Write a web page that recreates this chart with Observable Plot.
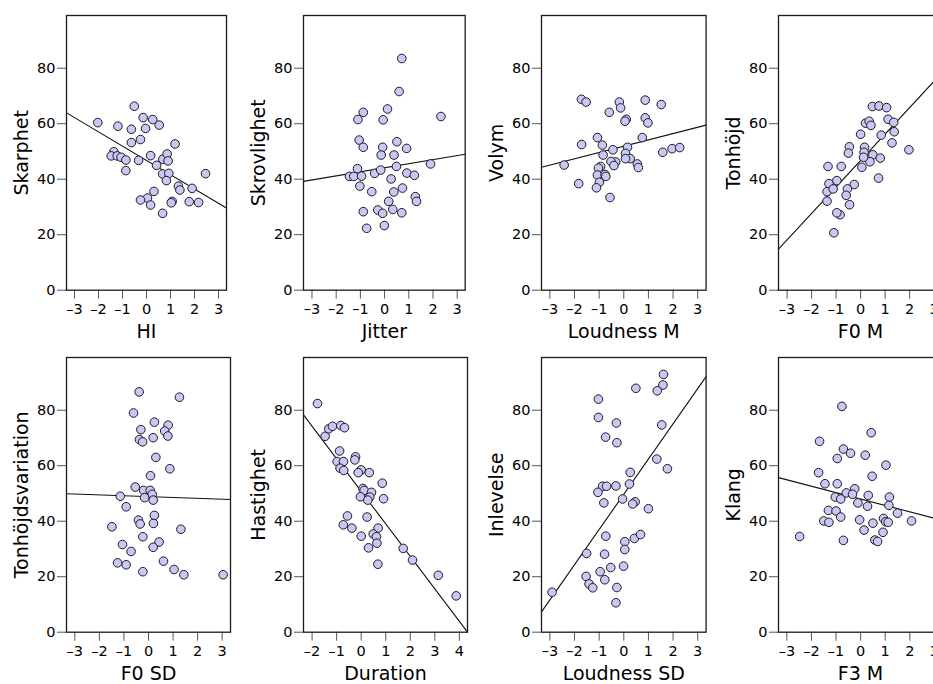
<!DOCTYPE html>
<html><head><meta charset="utf-8">
<script src="https://cdn.jsdelivr.net/npm/d3@7"></script>
<script src="https://cdn.jsdelivr.net/npm/@observablehq/plot@0.6"></script>
<style>
html,body{margin:0;padding:0;background:#fff;overflow:hidden}
#wrap{position:relative;width:933px;height:684px;overflow:hidden}
.cell{position:absolute;overflow:visible}
.cell svg{max-width:none !important}
g[aria-label$="axis tick"] path{stroke:#555}
.tick line{stroke:#555}
</style></head><body><div id="wrap"></div>
<script>
// ---- data ----
const hi = [-2.03,-0.51,-1.19,-0.63,-0.14,0.26,0.53,-0.04,-0.25,-0.63,1.19,-1.36,-1.47,-1.22,-1.06,-0.86,-0.33,0.17,0.68,0.86,0.90,0.42,-0.86,0.67,0.93,0.83,2.46,1.33,1.39,1.90,0.31,0.04,-0.25,0.17,1.07,1.03,1.78,2.17,0.67];
const skarphet = [60.4,66.3,59.1,58.0,62.2,61.5,59.5,58.3,54.3,53.2,52.7,49.9,48.4,48.4,47.9,46.9,46.8,48.5,47.2,49.1,46.6,45.0,43.1,41.9,42.1,39.5,42.0,37.5,36.1,36.7,35.6,33.2,32.5,30.7,32.0,31.5,31.9,31.6,27.7];
const skarphetFit = {x: [-3.33, 3.33], y: [63.9, 29.6]};

const jitter = [0.71,0.60,-0.88,-1.10,0.12,-0.06,2.33,-1.05,-0.88,-0.08,0.51,0.91,-0.14,0.39,0.49,1.90,-1.12,-1.45,-1.27,-0.95,-0.41,-0.16,0.92,1.23,0.27,-1.02,-0.53,0.38,0.74,1.27,1.32,0.17,-0.28,-0.08,0.34,0.71,-0.88,-0.74,-0.01];
const skrovlighet = [83.5,71.6,64.1,61.5,65.3,61.4,62.6,54.1,51.5,51.5,53.5,51.1,48.7,48.7,44.6,45.5,43.8,41.0,41.0,41.1,42.1,43.3,42.2,41.4,40.1,37.5,35.5,35.4,36.8,33.7,32.0,32.0,28.9,27.7,29.1,27.9,28.3,22.3,23.3];
const skrovlighetFit = {x: [-3.35, 3.33], y: [39.2, 49.0]};

const loudnessM = [-1.72,-1.53,-0.59,-0.18,-0.13,0.87,1.52,0.10,0.05,0.87,0.98,-1.71,-1.07,-0.87,0.75,-0.44,0.15,-0.84,0.07,0.26,0.07,-0.33,-0.52,-0.40,1.58,1.96,2.27,-2.42,0.55,0.59,-0.94,-1.03,-1.07,-0.76,-0.73,-0.99,-1.11,-1.83,-0.56];
const volym = [68.8,67.8,64.1,67.8,65.7,68.5,66.9,61.6,60.9,62.1,60.3,52.5,55.0,52.3,55.0,50.6,51.5,48.7,49.3,47.4,47.4,46.2,46.4,44.9,49.7,51.0,51.4,45.1,45.5,44.2,44.6,44.0,41.5,41.7,41.0,38.9,36.9,38.4,33.4];
const volymFit = {x: [-3.34, 3.34], y: [44.3, 59.5]};

const f0M = [0.48,0.75,1.06,0.20,0.35,0.42,1.12,1.35,0.00,0.84,1.37,1.28,1.97,-0.46,-0.50,0.16,0.14,0.50,0.80,0.38,0.12,0.05,-1.33,-0.79,0.73,-0.97,-1.29,-0.26,-1.37,-1.12,-0.54,-0.59,-0.45,-1.37,-0.84,-0.97,-1.09];
const tonhojd = [66.2,66.4,65.8,60.2,60.9,59.4,61.6,60.5,56.2,55.9,57.1,53.1,50.6,51.7,49.4,51.5,49.7,48.8,47.6,46.3,47.9,44.3,44.6,44.6,40.4,39.5,38.4,38.1,35.5,36.5,36.5,34.2,30.8,32.1,27.2,27.9,20.7];
const tonhojdFit = {x: [-3.35, 3.34], y: [14.8, 78.6]};

const f0SD = [-0.38,1.26,-0.61,0.24,0.80,0.66,-0.31,0.79,0.19,-0.37,-0.24,0.30,0.87,0.08,-0.54,-0.20,0.07,0.15,0.19,-0.16,-1.15,-0.91,0.24,-0.41,-0.34,0.20,-1.49,1.32,-0.23,0.43,0.19,-1.06,-0.71,-1.26,-0.91,0.61,1.04,1.44,-0.23,3.04];
const tonhojdsvariation = [86.6,84.7,79.0,75.7,74.6,72.5,73.0,70.7,70.1,69.4,68.6,63.0,58.9,56.4,52.3,51.1,51.1,49.7,47.6,48.5,49.0,45.2,42.1,40.4,39.0,39.2,38.0,37.1,34.4,32.5,30.6,31.6,29.1,25.0,24.3,25.6,22.6,20.7,21.8,20.7];
const tonhojdsvariationFit = {x: [-3.34, 3.34], y: [49.9, 47.8]};

const duration = [-1.78,-1.47,-1.32,-1.17,-0.83,-0.68,-0.88,-0.98,-0.72,-0.86,-0.71,-0.23,-0.26,0.00,-0.12,0.33,0.86,0.07,0.12,0.42,-0.03,0.35,0.27,0.91,-0.56,0.24,-0.73,-0.38,0.69,0.00,0.49,0.62,0.64,0.30,0.68,1.71,2.09,3.14,3.87];
const hastighet = [82.4,70.6,73.3,74.2,74.5,73.7,65.3,61.5,61.5,59.1,58.3,63.2,62.1,58.5,57.5,57.5,53.7,51.8,51.1,50.4,48.8,48.7,47.6,48.1,41.9,41.5,38.7,37.5,37.5,34.6,35.4,34.4,32.1,30.4,24.5,30.2,26.0,20.5,13.1];
const hastighetFit = {x: [-2.35, 4.33], y: [78.3, 0.0]};

const loudnessSD = [1.61,1.59,1.36,0.49,-1.03,-1.03,-0.30,1.54,-0.74,-0.28,1.34,1.77,0.26,0.23,-0.86,-0.70,-0.32,-1.05,-0.81,-0.05,0.46,0.36,1.00,-0.73,0.04,0.43,0.68,0.04,-1.51,-0.78,-0.53,-0.01,-0.96,-1.53,-0.77,-1.41,-1.26,-0.28,-0.32,-2.91];
const inlevelse = [92.9,89.1,87.0,87.9,84.0,77.4,75.4,74.7,70.3,68.3,62.4,58.9,57.6,53.4,52.6,52.6,52.7,50.4,46.6,48.0,47.0,46.2,44.5,34.6,32.6,33.8,35.2,29.8,28.4,28.1,23.3,23.8,21.8,20.1,18.9,17.4,16.0,16.1,10.6,14.4];
const inlevelseFit = {x: [-3.34, 3.34], y: [7.3, 92.1]};

const f3M = [-0.76,0.43,-1.67,-0.70,-0.41,0.19,-0.95,1.03,-1.71,0.47,-1.45,-0.95,-0.24,-0.58,-0.33,-1.03,-0.81,0.31,1.17,-0.11,0.28,1.15,1.50,2.07,-1.31,-1.00,-1.50,-1.29,-0.81,-0.04,0.93,1.02,1.12,0.50,0.14,0.91,-2.48,-0.70,0.58,0.69];
const klang = [81.4,71.9,68.8,66.0,64.5,63.8,62.6,60.2,57.5,56.2,53.5,53.5,51.7,50.2,49.7,48.7,48.0,49.3,48.7,46.6,45.4,45.7,42.9,40.1,43.9,43.7,40.1,39.6,41.5,40.5,41.0,39.8,39.6,39.3,36.8,36.0,34.5,33.1,33.2,32.7];
const klangFit = {x: [-3.34, 3.33], y: [55.7, 40.3]};

const yTicks = [0, 20, 40, 60, 80];
const xTicksStd = [-3, -2, -1, 0, 1, 2, 3];
const xTicksDur = [-2, -1, 0, 1, 2, 3, 4];

// ---- layout ----
const panels = [
  {xs: hi, ys: skarphet, fit: skarphetFit, xl: "HI", yl: "Skarphet", left: 0, top: 0, fw: 160, dom: [-3.333, 3.333], ticks: xTicksStd},
  {xs: jitter, ys: skrovlighet, fit: skrovlighetFit, xl: "Jitter", yl: "Skrovlighet", left: 237.3, top: 0, fw: 161.7, dom: [-3.35, 3.33], ticks: xTicksStd},
  {xs: loudnessM, ys: volym, fit: volymFit, xl: "Loudness M", yl: "Volym", left: 474.7, top: 0, fw: 164.6, dom: [-3.34, 3.34], ticks: xTicksStd},
  {xs: f0M, ys: tonhojd, fit: tonhojdFit, xl: "F0 M", yl: "Tonhöjd", left: 712, top: 0, fw: 164, dom: [-3.35, 3.34], ticks: xTicksStd},
  {xs: f0SD, ys: tonhojdsvariation, fit: tonhojdsvariationFit, xl: "F0 SD", yl: "Tonhöjdsvariation", left: 0, top: 342, fw: 164, dom: [-3.34, 3.34], ticks: xTicksStd},
  {xs: duration, ys: hastighet, fit: hastighetFit, xl: "Duration", yl: "Hastighet", left: 237.3, top: 342, fw: 164, dom: [-2.35, 4.33], ticks: xTicksDur},
  {xs: loudnessSD, ys: inlevelse, fit: inlevelseFit, xl: "Loudness SD", yl: "Inlevelse", left: 474.7, top: 342, fw: 164.6, dom: [-3.34, 3.34], ticks: xTicksStd},
  {xs: f3M, ys: klang, fit: klangFit, xl: "F3 M", yl: "Klang", left: 712, top: 342, fw: 164, dom: [-3.34, 3.33], ticks: xTicksStd}
];

const wrap = document.getElementById("wrap");
const ML = 66, MR = 10, MT = 15, MB = 52.3, H = 342;
const fmtTick = d => (d < 0 ? "\u2013" + Math.abs(d) : String(d));

for (const p of panels) {
  const pts = p.xs.map((x, i) => ({x, y: p.ys[i]}));
  const fitPts = p.fit.x.map((x, i) => ({x, y: p.fit.y[i]}));
  const W = ML + p.fw + MR;
  const chart = Plot.plot({
    width: W,
    height: H,
    marginLeft: ML, marginRight: MR, marginTop: MT, marginBottom: MB,
    style: {fontFamily: "DejaVu Sans, sans-serif", fontSize: "14.5px", color: "#000", background: "transparent", overflow: "visible"},
    x: {domain: p.dom, ticks: p.ticks, tickSize: 9, tickPadding: 5, label: null, tickFormat: fmtTick},
    y: {domain: [0, 99], ticks: yTicks, tickSize: 9, tickPadding: 2, label: null, tickFormat: fmtTick},
    marks: [
      Plot.line(fitPts, {x: "x", y: "y", stroke: "#111", strokeWidth: 1.1}),
      Plot.dot(pts, {x: "x", y: "y", r: 4.3, fill: "#c8c8f6", stroke: "#1a1a1a", strokeWidth: 1}),
      Plot.frame({stroke: "#1a1a1a", strokeWidth: 1.3}),
      Plot.text([p.yl], {text: d => d, frameAnchor: "left", textAnchor: "middle", dx: -45, rotate: -90, fontSize: 19, lineAnchor: "middle", fill: "#000"}),
      Plot.text([p.xl], {text: d => d, frameAnchor: "bottom", textAnchor: "middle", dy: 42, fontSize: 19, lineAnchor: "middle", fill: "#000"})
    ]
  });
  const cell = document.createElement("div");
  cell.className = "cell";
  cell.style.left = p.left + "px";
  cell.style.top = p.top + "px";
  cell.style.width = W + "px";
  cell.style.height = H + "px";
  cell.appendChild(chart);
  wrap.appendChild(cell);
}
</script>
</body></html>
